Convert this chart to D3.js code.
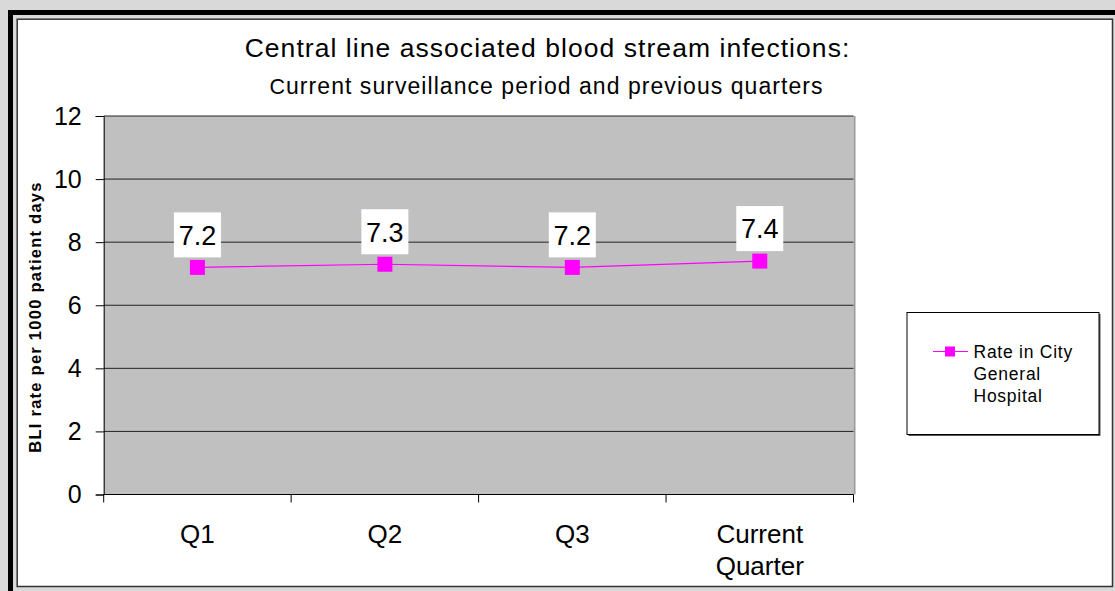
<!DOCTYPE html>
<html>
<head>
<meta charset="utf-8">
<script src="https://cdn.jsdelivr.net/npm/d3@7"></script>
<style>
  body { margin: 0; background: #d9d9d9; }
  svg { display: block; font-family: "Liberation Sans", Arial, sans-serif; }
</style>
</head>
<body>
<svg width="1115" height="591"></svg>
<script>
// chart data
const categories = ["Q1", "Q2", "Q3", "Current Quarter"];
const rates = [7.2, 7.3, 7.2, 7.4];
const yTicks = [0, 2, 4, 6, 8, 10, 12];
const seriesName = ["Rate in City", "General", "Hospital"];

const svg = d3.select("svg");

// frame
svg.append("rect").attr("width", 1115).attr("height", 591).attr("fill", "#d9d9d9");
svg.append("rect")
    .attr("x", 10.5).attr("y", 12.5).attr("width", 1200).attr("height", 700)
    .attr("fill", "none").attr("stroke", "#000").attr("stroke-width", 5);
svg.append("rect")
    .attr("x", 17.2).attr("y", 19.2).attr("width", 1095.3).attr("height", 567.3)
    .attr("fill", "#fff").attr("stroke", "#333").attr("stroke-width", 1.5);

const plot = { left: 103.7, right: 853.5, top: 116, bottom: 494.5 };

const x = d3.scaleBand().domain(categories).range([plot.left, plot.right]);
const y = d3.scaleLinear().domain([0, 12]).range([plot.bottom, plot.top]);
const cx = d => x(d) + x.bandwidth() / 2;

// plot area
svg.append("rect")
    .attr("x", plot.left).attr("y", plot.top)
    .attr("width", plot.right - plot.left).attr("height", plot.bottom - plot.top)
    .attr("fill", "#c0c0c0");
svg.append("line")
    .attr("x1", plot.right + 1).attr("x2", plot.right + 1)
    .attr("y1", plot.top).attr("y2", plot.bottom)
    .attr("stroke", "#9a9a9a").attr("stroke-width", 2);

// gridlines
svg.append("g")
    .selectAll("line")
    .data(yTicks.filter(d => d > 0))
    .join("line")
    .attr("x1", plot.left).attr("x2", plot.right)
    .attr("y1", d => y(d)).attr("y2", d => y(d))
    .attr("stroke", "#222").attr("stroke-width", 1);

// y axis
const yAxis = svg.append("g")
    .attr("transform", `translate(${plot.left},0)`)
    .call(d3.axisLeft(y).tickValues(yTicks).tickSize(8).tickPadding(14).tickFormat(d3.format("d")));
yAxis.select(".domain").attr("stroke", "#000");
yAxis.selectAll(".tick line").attr("stroke", "#000");
yAxis.selectAll("text")
    .attr("font-size", 25).attr("fill", "#000")
    .attr("font-family", "'Liberation Sans', Arial, sans-serif");

// x axis
svg.append("line")
    .attr("x1", plot.left).attr("x2", plot.right)
    .attr("y1", plot.bottom).attr("y2", plot.bottom)
    .attr("stroke", "#000");
const edges = categories.map(d => x(d)).concat([plot.right]);
svg.append("g")
    .selectAll("line")
    .data(edges)
    .join("line")
    .attr("x1", d => d).attr("x2", d => d)
    .attr("y1", plot.bottom).attr("y2", plot.bottom + 8)
    .attr("stroke", "#000");

const xLabels = svg.append("g")
    .selectAll("text")
    .data(categories)
    .join("text")
    .attr("text-anchor", "middle")
    .attr("font-size", 26)
    .attr("fill", "#000");
xLabels.each(function(d) {
    d3.select(this).selectAll("tspan")
        .data(d.split(" "))
        .join("tspan")
        .attr("x", cx(d))
        .attr("y", (w, i) => 542.5 + i * 32)
        .text(w => w);
});

// line + markers
const line = d3.line().x((d, i) => cx(categories[i])).y(d => y(d));
svg.append("path")
    .datum(rates)
    .attr("d", line)
    .attr("fill", "none")
    .attr("stroke", "#ff00ff")
    .attr("stroke-width", 1.2);

svg.append("g")
    .selectAll("rect")
    .data(rates)
    .join("rect")
    .attr("x", (d, i) => cx(categories[i]) - 7.5)
    .attr("y", d => y(d) - 7.5)
    .attr("width", 15).attr("height", 15)
    .attr("fill", "#ff00ff");

// data labels
const labels = svg.append("g").selectAll("g").data(rates).join("g");
labels.append("rect")
    .attr("x", (d, i) => cx(categories[i]) - 23.5)
    .attr("y", d => y(d) - 55)
    .attr("width", 47).attr("height", 45)
    .attr("fill", "#fff");
labels.append("text")
    .attr("x", (d, i) => cx(categories[i]))
    .attr("y", d => y(d) - 22.7)
    .attr("text-anchor", "middle")
    .attr("font-size", 27)
    .attr("fill", "#000")
    .text(d => d3.format(".1f")(d));

// titles
svg.append("text")
    .attr("x", 547.5).attr("y", 56.7)
    .attr("text-anchor", "middle")
    .attr("font-size", 26.5)
    .attr("letter-spacing", 1.05)
    .text("Central line associated blood stream infections:");
const sub = svg.append("text")
    .attr("x", 546.5).attr("y", 94)
    .attr("text-anchor", "middle")
    .attr("font-size", 23)
    .attr("letter-spacing", 1.05);
sub.append("tspan").attr("font-size", 21.5).text("C");
sub.append("tspan").text("urrent surveillance period and previous quarters");

svg.append("text")
    .attr("transform", "translate(41,317) rotate(-90)")
    .attr("text-anchor", "middle")
    .attr("font-size", 16.5)
    .attr("font-weight", "bold")
    .attr("letter-spacing", 1.25)
    .text("BLI rate per 1000 patient days");

// legend
const lg = svg.append("g");
lg.append("rect")
    .attr("x", 908.5).attr("y", 314)
    .attr("width", 192).attr("height", 122)
    .attr("fill", "#555");
lg.append("rect")
    .attr("x", 907).attr("y", 312.5)
    .attr("width", 192).attr("height", 122)
    .attr("fill", "#fff").attr("stroke", "#000").attr("stroke-width", 1);
lg.append("line")
    .attr("x1", 933).attr("x2", 968)
    .attr("y1", 351.5).attr("y2", 351.5)
    .attr("stroke", "#ff00ff").attr("stroke-width", 1.2);
lg.append("rect")
    .attr("x", 945).attr("y", 346.5).attr("width", 10).attr("height", 10)
    .attr("fill", "#ff00ff");
lg.append("g")
    .selectAll("text")
    .data(seriesName)
    .join("text")
    .attr("x", 973.5)
    .attr("y", (d, i) => 357.7 + i * 22.2)
    .attr("font-size", 17.5)
    .attr("letter-spacing", 0.75)
    .attr("fill", "#000")
    .text(d => d);
</script>
</body>
</html>
